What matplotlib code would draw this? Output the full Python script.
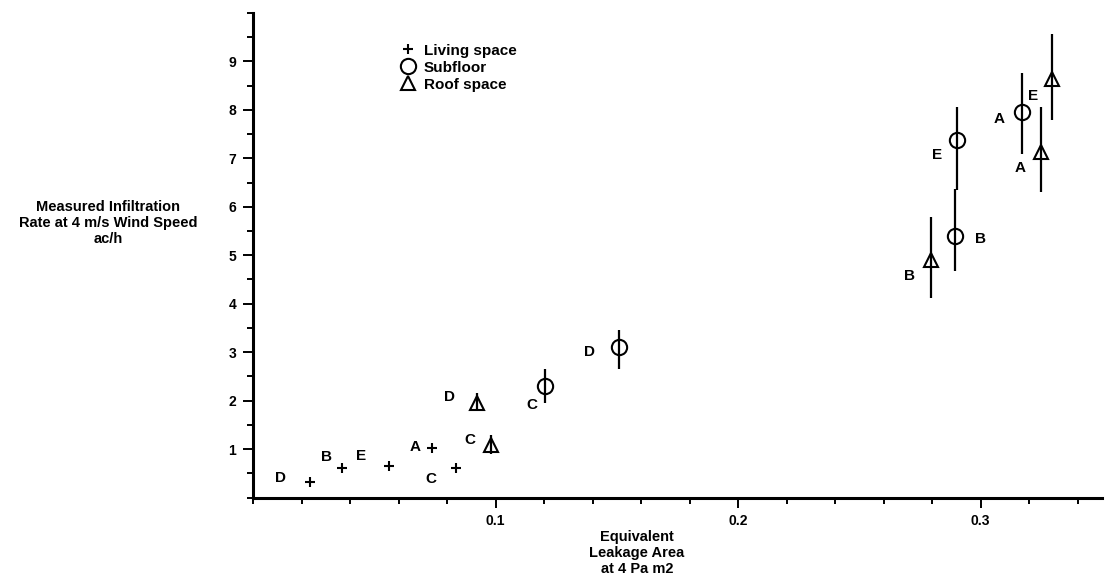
import matplotlib
matplotlib.use("Agg")
import matplotlib.pyplot as plt
import numpy as np
from matplotlib.ticker import MultipleLocator, FixedLocator

plt.rcParams['font.family'] = ['Liberation Sans', 'DejaVu Sans']
plt.rcParams['font.weight'] = 'bold'

# living space (+), no error bars
living_site = ['D', 'B', 'E', 'A', 'C']
living_ela = [0.0237, 0.0365, 0.056, 0.074, 0.0836]
living_ach = [0.32, 0.61, 0.65, 1.02, 0.61]

# subfloor (circles)
sub_site = ['C', 'D', 'B', 'E', 'A']
sub_ela = [0.1206, 0.151, 0.2893, 0.2903, 0.3173]
sub_ach = [2.30, 3.10, 5.39, 7.37, 7.95]
sub_lo = [1.95, 2.65, 4.67, 6.34, 7.08]
sub_hi = [2.65, 3.45, 6.36, 8.07, 8.77]

# roof space (triangles)
roof_site = ['D', 'C', 'B', 'A', 'E']
roof_ela = [0.0922, 0.098, 0.2794, 0.3248, 0.3293]
roof_ach = [1.95, 1.08, 4.90, 7.14, 8.63]
roof_lo = [1.78, 0.90, 4.11, 6.30, 7.80]
roof_hi = [2.15, 1.29, 5.78, 8.05, 9.56]

# label offsets in pixels (dx, dy) relative to each marker
living_off = [(-30, 4), (-15, 11), (-28, 10), (-17, 1), (-25, -11)]
sub_off = [(-14, -19), (-30, -5), (26, -3), (-20, -15), (-23, -7)]
roof_off = [(-27, 6), (-21, 5), (-21, -16), (-21, -16), (-18, -17)]

fig = plt.figure(figsize=(11.07, 5.84), dpi=100)
ax = fig.add_axes([253 / 1107, 86.5 / 584, 0.35 * 2425 / 1107, 484.5 / 584])

h1, = ax.plot(living_ela, living_ach, '+', color='black', ms=7, mew=1.5, ls='none')

ax.errorbar(sub_ela, sub_ach,
            yerr=[np.array(sub_ach) - np.array(sub_lo), np.array(sub_hi) - np.array(sub_ach)],
            fmt='none', ecolor='black', elinewidth=1.6, capsize=0)
h2, = ax.plot(sub_ela, sub_ach, 'o', mfc='none', mec='black', ms=11, mew=1.5, ls='none')

ax.errorbar(roof_ela, roof_ach,
            yerr=[np.array(roof_ach) - np.array(roof_lo), np.array(roof_hi) - np.array(roof_ach)],
            fmt='none', ecolor='black', elinewidth=1.6, capsize=0)
h3, = ax.plot(roof_ela, roof_ach, '^', mfc='none', mec='black', ms=10, mew=1.5, ls='none')

for names, xs, ys, offs in [(living_site, living_ela, living_ach, living_off),
                            (sub_site, sub_ela, sub_ach, sub_off),
                            (roof_site, roof_ela, roof_ach, roof_off)]:
    for n, x, y, o in zip(names, xs, ys, offs):
        ax.annotate(n, (x, y), xytext=o, textcoords='offset pixels',
                    ha='center', va='center', fontsize=11, fontweight='bold')

ax.set_xlim(0, 0.35)
ax.set_ylim(0, 10)

ax.xaxis.set_major_locator(FixedLocator([0.1, 0.2, 0.3]))
ax.xaxis.set_minor_locator(MultipleLocator(0.02))
ax.yaxis.set_major_locator(FixedLocator(range(1, 10)))
ax.yaxis.set_minor_locator(MultipleLocator(0.5))

ax.spines['top'].set_visible(False)
ax.spines['right'].set_visible(False)
ax.spines['left'].set_linewidth(2.2)
ax.spines['bottom'].set_linewidth(2.2)

ax.tick_params(axis='both', which='major', direction='out', width=1.4, labelsize=10, pad=5)
ax.tick_params(axis='x', which='major', length=7)
ax.tick_params(axis='y', which='major', length=7)
ax.tick_params(axis='both', which='minor', direction='out', width=1.4, length=4)
for lab in ax.get_xticklabels() + ax.get_yticklabels():
    lab.set_fontweight('bold')

fig.text(108 / 1107, 1 - 223 / 584,
         'Measured Infiltration\nRate at 4 m/s Wind Speed\nac/h',
         ha='center', va='center', fontsize=10.5, fontweight='bold', linespacing=1.15)
fig.text(637 / 1107, 1 - 553 / 584,
         'Equivalent\nLeakage Area\nat 4 Pa m2',
         ha='center', va='center', fontsize=10.5, fontweight='bold', linespacing=1.15)

fig.legend([h1, h2, h3], ['Living space', 'Subfloor', 'Roof space'],
           loc='upper left', bbox_to_anchor=(393 / 1107, 1 - 36 / 584),
           frameon=False, borderpad=0, handlelength=1.0, handletextpad=0.5,
           labelspacing=0.2, prop={'size': 11, 'weight': 'bold'}, markerscale=1.0)

fig.savefig('out.png', dpi=100)
